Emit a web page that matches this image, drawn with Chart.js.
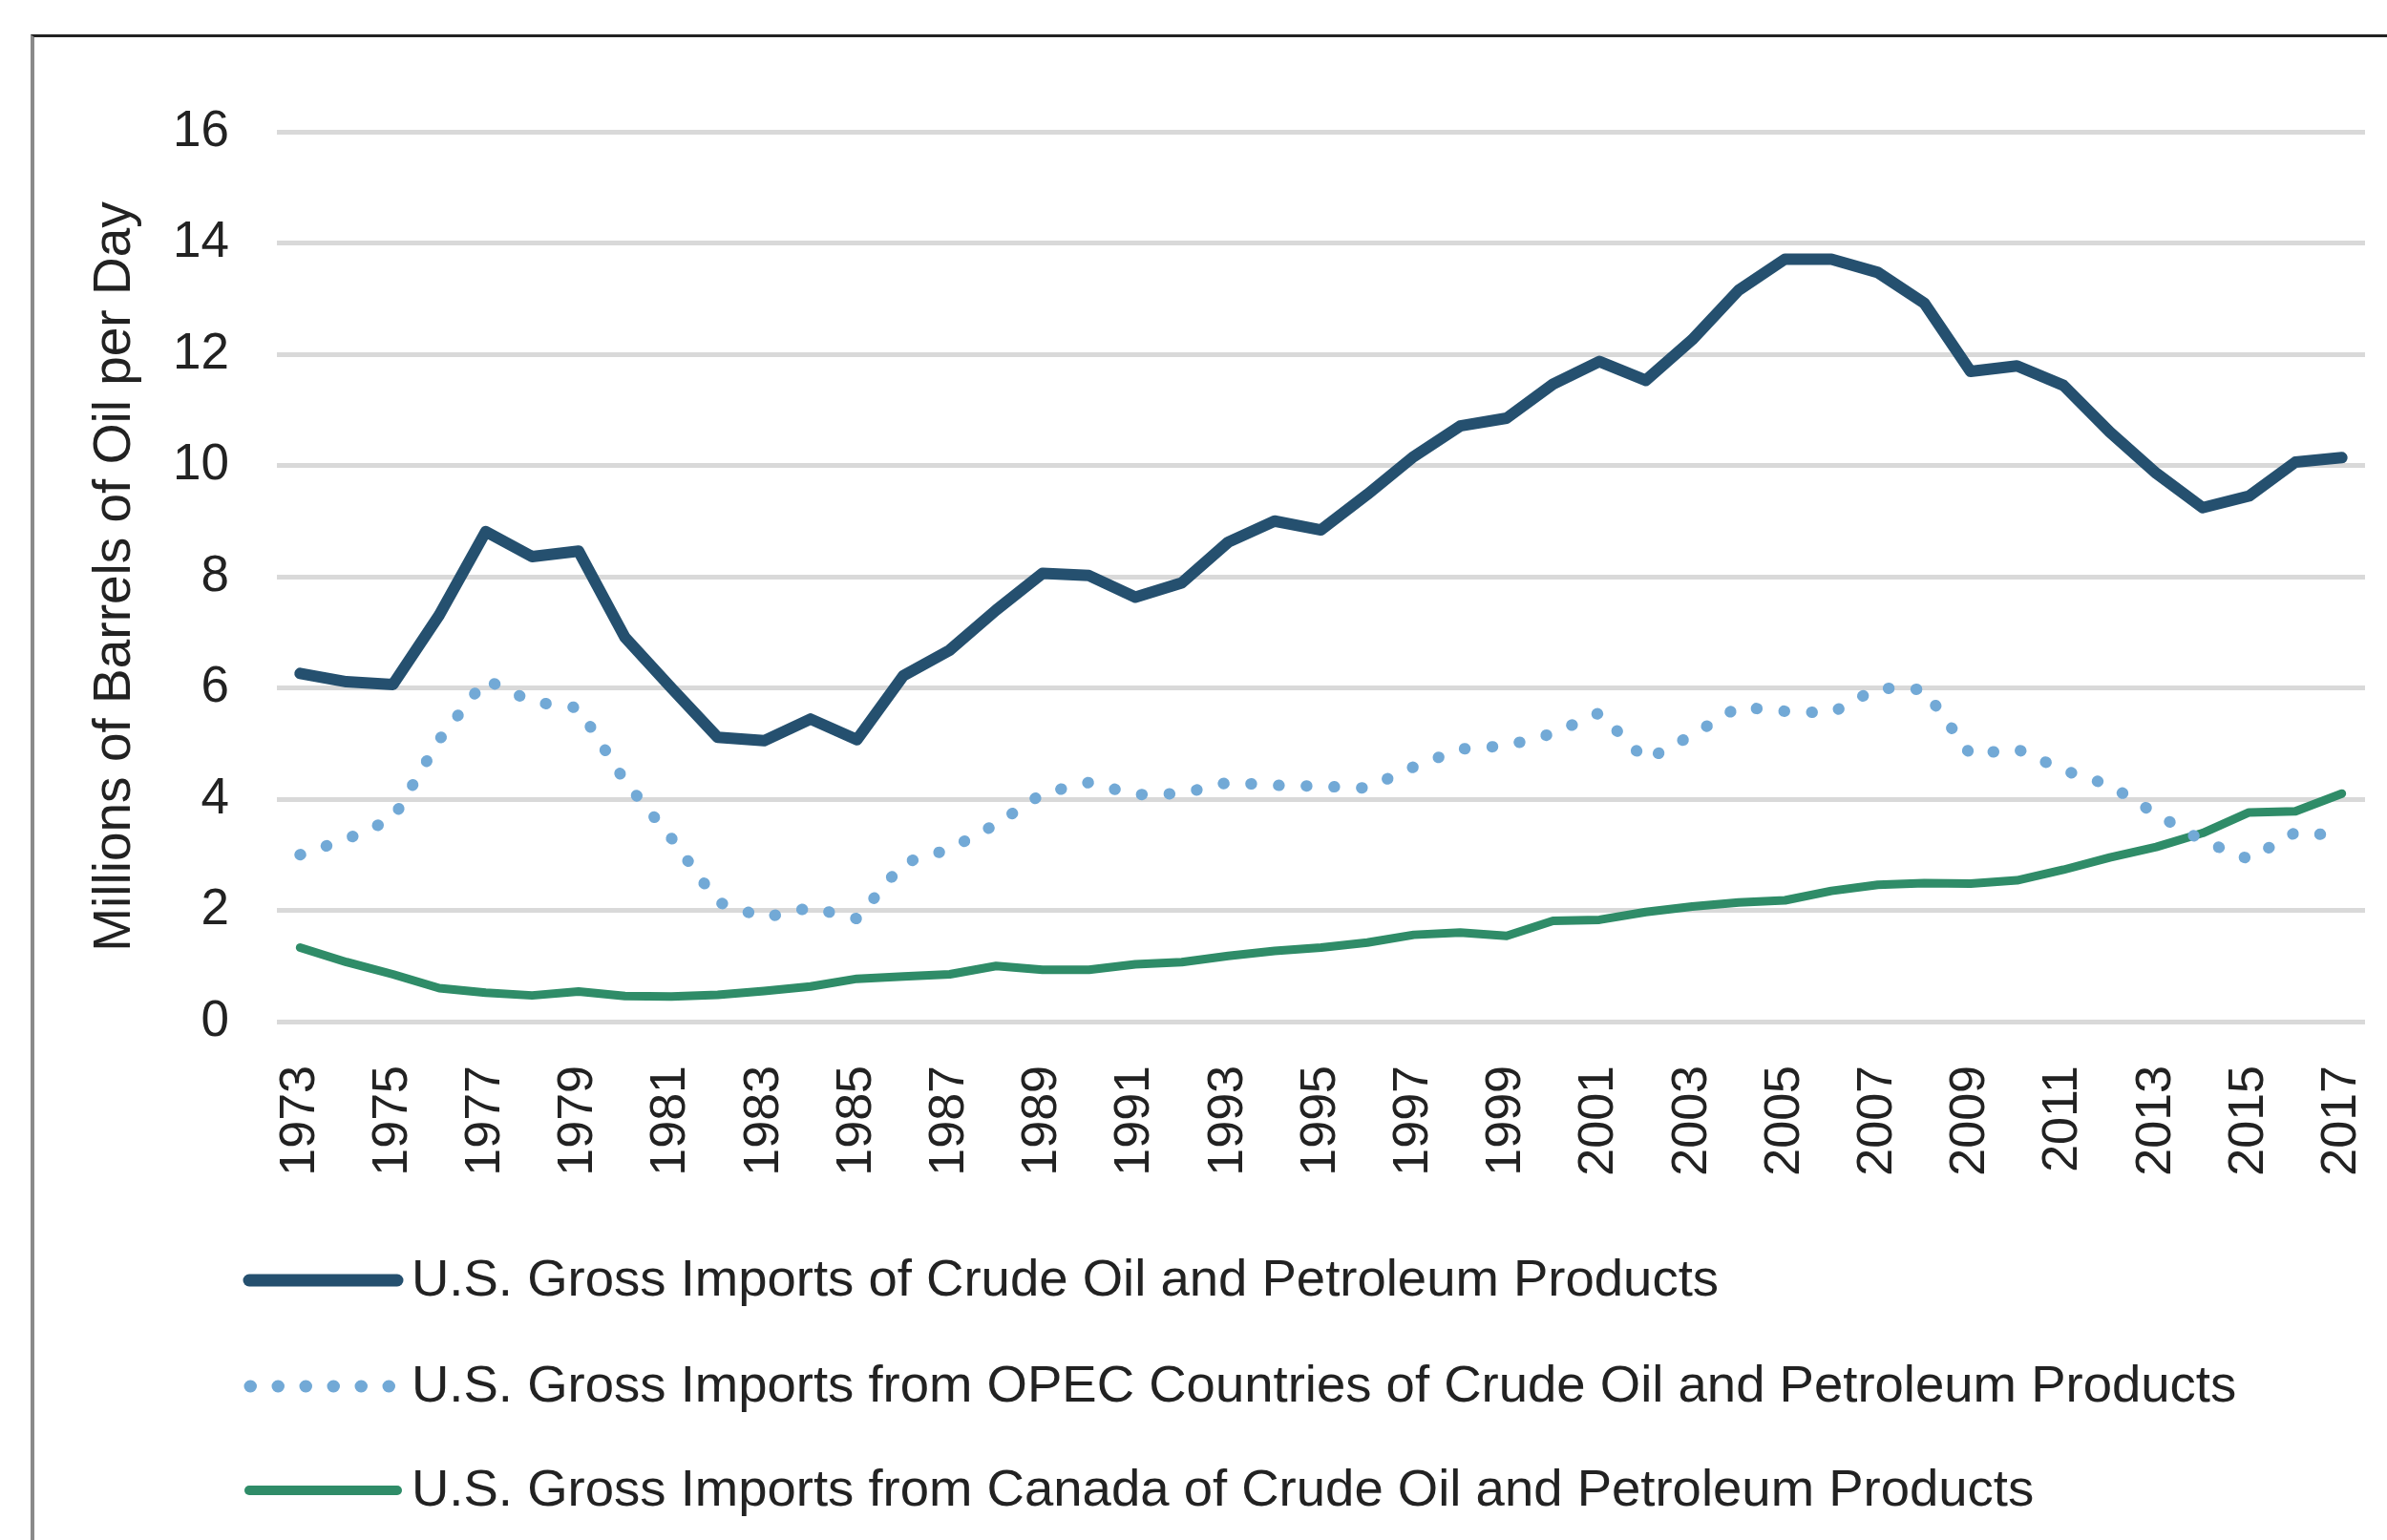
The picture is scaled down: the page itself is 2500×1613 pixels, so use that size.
<!DOCTYPE html>
<html>
<head>
<meta charset="utf-8">
<script src="https://cdn.jsdelivr.net/npm/chart.js@4.4.1/dist/chart.umd.min.js"></script>
<style>
  body { margin: 0; background: #fff; }
  #wrap { position: relative; width: 2500px; height: 1613px; overflow: hidden; }
  #frame {
    position: absolute; left: 32px; top: 36px; width: 2600px; height: 1700px;
    border-top: 3px solid #222; border-left: 4px solid #8a8a8a;
  }
  #chart { position: absolute; left: 0; top: 0; }
</style>
</head>
<body>
<div id="wrap">
  <div id="frame"></div>
  <canvas id="chart" width="2500" height="1613"></canvas>
</div>
<script>
const years = [
  1973, 1974, 1975, 1976, 1977, 1978, 1979, 1980, 1981, 1982,
  1983, 1984, 1985, 1986, 1987, 1988, 1989, 1990, 1991, 1992,
  1993, 1994, 1995, 1996, 1997, 1998, 1999, 2000, 2001, 2002,
  2003, 2004, 2005, 2006, 2007, 2008, 2009, 2010, 2011, 2012,
  2013, 2014, 2015, 2016, 2017
];

// millions of barrels per day
const totalImports = [
  6.26, 6.11, 6.06, 7.31, 8.81, 8.36, 8.46, 6.91, 6.00, 5.11,
  5.05, 5.44, 5.07, 6.22, 6.68, 7.40, 8.06, 8.02, 7.63, 7.89,
  8.62, 9.00, 8.84, 9.48, 10.16, 10.71, 10.85, 11.46, 11.87, 11.53,
  12.26, 13.15, 13.71, 13.71, 13.47, 12.92, 11.69, 11.79, 11.44, 10.60,
  9.86, 9.24, 9.45, 10.06, 10.14
];
const opecImports = [
  3.00, 3.28, 3.65, 5.07, 6.15, 5.75, 5.64, 4.32, 3.30, 2.15,
  1.87, 2.05, 1.85, 2.85, 3.10, 3.55, 4.10, 4.30, 4.08, 4.10,
  4.30, 4.25, 4.23, 4.20, 4.58, 4.90, 4.96, 5.18, 5.55, 4.70,
  5.15, 5.66, 5.58, 5.55, 6.00, 5.97, 4.80, 4.90, 4.52, 4.25,
  3.73, 3.25, 2.92, 3.40, 3.34
];
const canadaImports = [
  1.33, 1.07, 0.85, 0.60, 0.52, 0.47, 0.54, 0.46, 0.45, 0.48,
  0.55, 0.63, 0.77, 0.81, 0.85, 1.00, 0.93, 0.93, 1.03, 1.07,
  1.18, 1.27, 1.33, 1.42, 1.56, 1.60, 1.54, 1.81, 1.83, 1.97,
  2.07, 2.14, 2.18, 2.35, 2.46, 2.49, 2.48, 2.54, 2.73, 2.95,
  3.14, 3.39, 3.76, 3.78, 4.10
];

const seriesNames = [
  'U.S. Gross Imports of Crude Oil and Petroleum Products',
  'U.S. Gross Imports from OPEC Countries of Crude Oil and Petroleum Products',
  'U.S. Gross Imports from Canada of Crude Oil and Petroleum Products'
];
const yTitle = 'Millions of Barrels of Oil per Day';

const FONT = '"Liberation Sans", Arial, sans-serif';
const TEXT = '#222222';

// legend drawn under the axis, one row per series
const bottomLegend = {
  id: 'bottomLegend',
  afterDraw(chart) {
    const ctx = chart.ctx;
    const rows = [1341, 1452, 1561];
    ctx.save();
    chart.data.datasets.forEach((ds, i) => {
      const y = rows[i];
      ctx.beginPath();
      ctx.strokeStyle = ds.borderColor;
      ctx.lineWidth = ds.legendWidth;
      ctx.lineCap = 'round';
      if (ds.borderDash) {
        ctx.setLineDash(ds.borderDash);
        ctx.moveTo(262, y);
        ctx.lineTo(422, y);
      } else {
        ctx.setLineDash([]);
        ctx.moveTo(261, y);
        ctx.lineTo(416, y);
      }
      ctx.stroke();
      ctx.setLineDash([]);
      ctx.fillStyle = TEXT;
      ctx.font = '54.5px ' + FONT;
      ctx.textBaseline = 'middle';
      ctx.textAlign = 'left';
      ctx.fillText(ds.label, 431, y + 1);
    });
    ctx.restore();
  }
};

const ctx = document.getElementById('chart').getContext('2d');

new Chart(ctx, {
  type: 'line',
  data: {
    labels: years,
    datasets: [
      {
        label: seriesNames[0],
        data: totalImports,
        borderColor: '#25506f',
        borderWidth: 12,
        legendWidth: 13,
        borderCapStyle: 'round',
        borderJoinStyle: 'round',
        pointRadius: 0,
        tension: 0
      },
      {
        label: seriesNames[1],
        data: opecImports,
        borderColor: '#72a9d6',
        borderWidth: 12,
        legendWidth: 13,
        borderDash: [0.5, 28.5],
        borderCapStyle: 'round',
        borderJoinStyle: 'round',
        pointRadius: 0,
        tension: 0
      },
      {
        label: seriesNames[2],
        data: canadaImports,
        borderColor: '#2f8c68',
        borderWidth: 9,
        legendWidth: 10,
        borderCapStyle: 'round',
        borderJoinStyle: 'round',
        pointRadius: 0,
        tension: 0
      }
    ]
  },
  options: {
    responsive: false,
    devicePixelRatio: 1,
    animation: false,
    layout: { padding: { top: 138, right: 23, bottom: 0, left: 0 } },
    plugins: {
      legend: { display: false },
      tooltip: { enabled: false }
    },
    scales: {
      x: {
        type: 'category',
        offset: true,
        grid: { display: false },
        border: { display: false },
        ticks: {
          autoSkip: false,
          minRotation: 90,
          maxRotation: 90,
          padding: 38,
          color: TEXT,
          font: { family: FONT, size: 52 },
          callback: function (value, index) {
            return index % 2 === 0 ? this.getLabelForValue(value) : '';
          }
        },
        afterFit(scale) {
          scale.height = 543;
          scale.paddingLeft = 0;
          scale.paddingRight = 0;
        }
      },
      y: {
        min: 0,
        max: 16,
        grid: {
          color: '#d9d9d9',
          lineWidth: 5,
          drawTicks: false
        },
        border: { display: false },
        ticks: {
          stepSize: 2,
          padding: 50,
          color: TEXT,
          font: { family: FONT, size: 53 }
        },
        title: {
          display: true,
          text: yTitle,
          color: TEXT,
          font: { family: FONT, size: 55 },
          padding: { top: 88, bottom: 0 }
        },
        afterFit(scale) {
          scale.width = 290;
        }
      }
    }
  },
  plugins: [bottomLegend]
});
</script>
</body>
</html>
